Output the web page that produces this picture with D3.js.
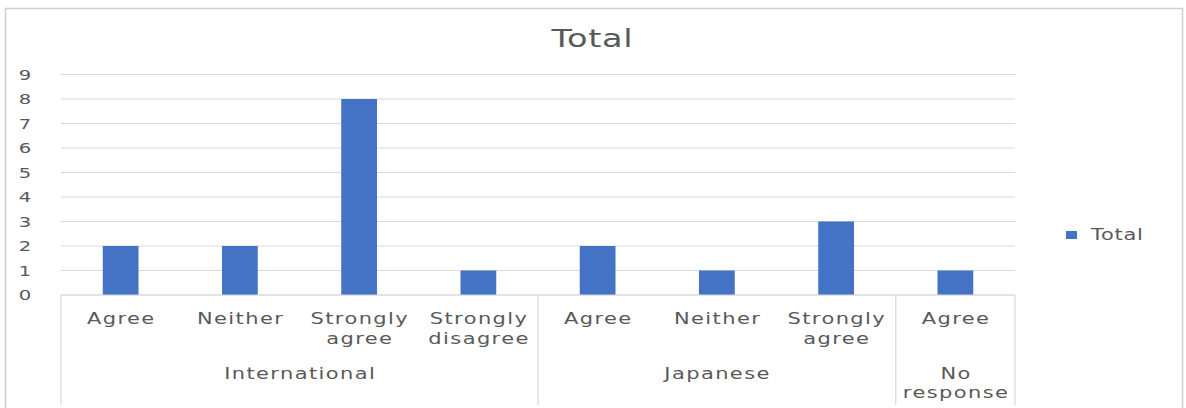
<!DOCTYPE html>
<html><head><meta charset="utf-8">
<script src="https://cdn.jsdelivr.net/npm/d3@7"></script>
<style>body{margin:0;background:#fff}svg{display:block}</style>
</head><body>
<svg id="c" width="1186" height="408"></svg>
<script>
const groups = ["International","International","International","International","Japanese","Japanese","Japanese","No response"];
const categories = ["Agree","Neither","Strongly agree","Strongly disagree","Agree","Neither","Strongly agree","Agree"];
const values = [2,2,8,1,2,1,3,1];
const groupNames = ["International","Japanese","No response"];
const yTicks = [0,1,2,3,4,5,6,7,8,9];
const seriesName = "Total";

const FONT = "'DejaVu Sans',sans-serif";
const SX = 1.4;
const svg = d3.select("#c");
const W=1186,H=408;
const m={l:61,r:1015,t:74.5,b:295};
const ids = categories.map((d,i)=>i);
const x = d3.scaleBand().domain(ids).range([m.l,m.r]).paddingInner(0.7).paddingOuter(0.35);
const xb = d3.scaleBand().domain(ids).range([m.l,m.r]);
const y = d3.scaleLinear().domain([0,9]).range([m.b,m.t]);

function addText(parent, tx, ty, str, size, anchor, ls){
  const g = parent.append("g").attr("transform",`translate(${tx},${ty}) scale(${SX},1)`);
  return g.append("text").attr("x", anchor==="middle" ? (ls||0)/2 : 0).attr("y",0)
    .attr("text-anchor",anchor).attr("font-size",size).attr("font-family",FONT)
    .attr("fill","#595959").attr("letter-spacing",ls||0).text(str);
}

// chart border
svg.append("path").attr("d",`M5.5,${H} V8.5 H1182.5 V${H}`).attr("fill","none").attr("stroke","#d0d0d0").attr("stroke-width",1.5);

// gridlines
svg.append("g").selectAll("line").data(yTicks).join("line")
  .attr("x1",m.l).attr("x2",m.r).attr("y1",d=>y(d)).attr("y2",d=>y(d))
  .attr("stroke","#d9d9d9").attr("stroke-width",1.2);

// y axis labels (positions from the scale)
const ya = svg.append("g");
yTicks.forEach(t=>{
  addText(ya, 25, y(t)+5, String(t), 14, "middle", 0);
});

// bars
svg.append("g").selectAll("rect").data(values).join("rect")
  .attr("x",(d,i)=>x(i)).attr("width",x.bandwidth())
  .attr("y",d=>y(d)).attr("height",d=>y(0)-y(d)).attr("fill","#4472c4");

// category labels
const lab = svg.append("g");
categories.forEach((c,i)=>{
  const cx = xb(i)+xb.bandwidth()/2;
  c.split(" ").forEach((w,j)=>{
    addText(lab, cx, 324+j*20, w, 15, "middle", 1);
  });
});

// group separators
const gsep=[0];
for(let i=1;i<groups.length;i++) if(groups[i]!==groups[i-1]) gsep.push(i);
gsep.push(groups.length);
svg.append("g").selectAll("line").data(gsep).join("line")
  .attr("x1",d=>d<groups.length?xb(d):m.r).attr("x2",d=>d<groups.length?xb(d):m.r)
  .attr("y1",m.b).attr("y2",405).attr("stroke","#d9d9d9").attr("stroke-width",1.2);
svg.append("line").attr("x1",m.l).attr("x2",m.r).attr("y1",m.b).attr("y2",m.b).attr("stroke","#d9d9d9").attr("stroke-width",1.2);

// group labels
groupNames.forEach(g=>{
  const idx = groups.map((d,i)=>d===g?i:-1).filter(i=>i>=0);
  const x0 = xb(idx[0]), x1 = xb(idx[idx.length-1])+xb.bandwidth();
  const cx=(x0+x1)/2;
  const words = idx.length===1 ? g.split(" ") : [g];
  words.forEach((w,j)=>{
    addText(lab, cx, 379+j*19, w, 15, "middle", 1);
  });
});

// title
addText(svg, 592, 47, seriesName, 24, "middle", 0.5);

// legend
svg.append("rect").attr("x",1066).attr("y",231).attr("width",11).attr("height",8).attr("fill","#4472c4");
addText(svg, 1091, 240, seriesName, 15, "start", 0.5);
</script>
</body></html>
